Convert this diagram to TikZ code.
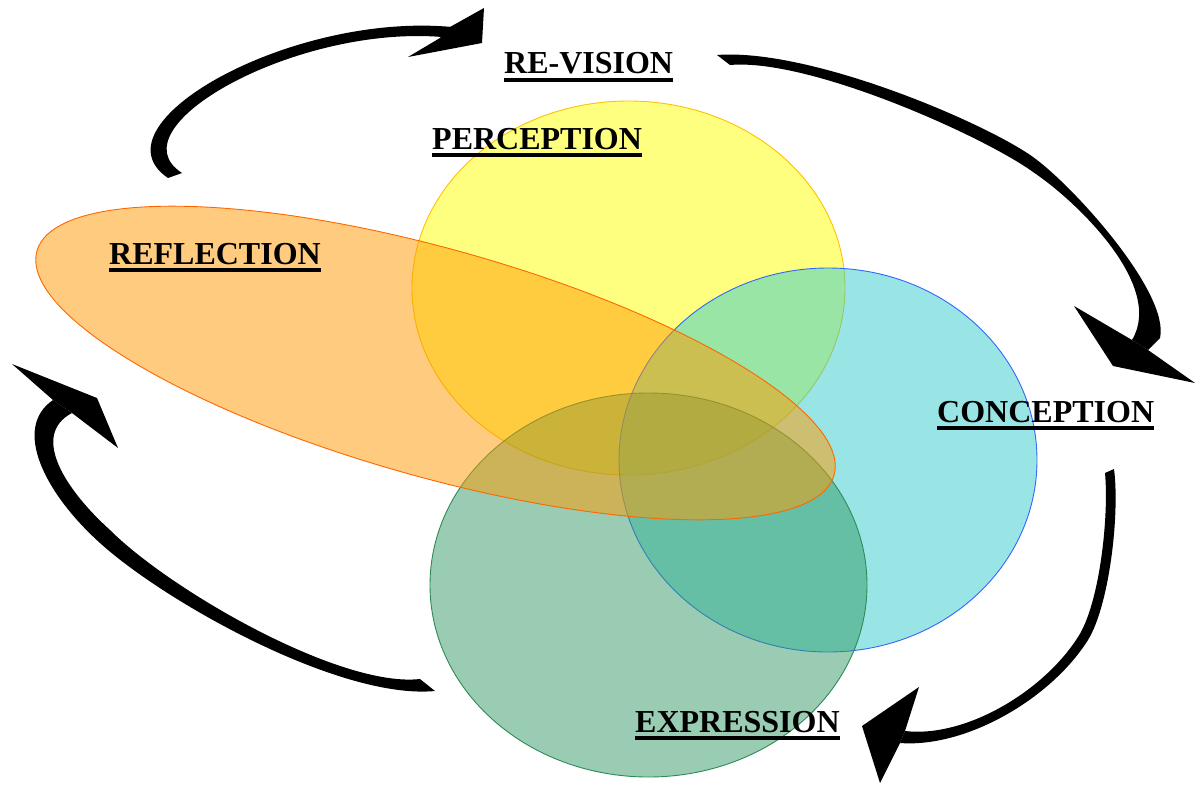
\documentclass[tikz,border=0pt]{standalone}
\usepackage{fontspec}
\setmainfont{Liberation Serif}
\newcommand\ulx[1]{\setbox0\hbox{#1}\rlap{\vrule height -4pt depth 7.8pt width \wd0}\box0}
\definecolor{yfill}{HTML}{FFFF00}
\definecolor{yedge}{HTML}{FFC000}
\definecolor{cfill}{HTML}{33CCCC}
\definecolor{cedge}{HTML}{3366FF}
\definecolor{gfill}{HTML}{339966}
\definecolor{gedge}{HTML}{2E8B57}
\definecolor{ofill}{HTML}{FF9900}
\definecolor{oedge}{HTML}{FF6600}
\tikzset{
  blob/.style={fill opacity=0.5, draw opacity=1, line width=0.9pt},
  lbl/.style={anchor=base west, inner sep=0pt, font=\fontsize{32}{38}\selectfont\bfseries},
  arr/.style={fill=black}
}
\begin{document}
\begin{tikzpicture}[x=1pt,y=-1pt]
\useasboundingbox (0,0) rectangle (1196,784);
% ellipses
\filldraw[blob, fill=yfill, draw=yedge] (628.5,288) ellipse [x radius=216.5, y radius=187];
\filldraw[blob, fill=cfill, draw=cedge] (828,460) ellipse [x radius=209, y radius=192];
\filldraw[blob, fill=gfill, draw=gedge] (648.5,585) ellipse [x radius=218.5, y radius=192];
\filldraw[blob, fill=ofill, draw=oedge, rotate around={-15.7:(435.5,363)}] (435.5,363) ellipse [x radius=414, y radius=114];
% arrow A (top-left)
\fill[arr] (168,178) .. controls (90,125) and (290,12) .. (452,27)
  -- (442,37) .. controls (295,25) and (112,128) .. (182,173) -- cycle;
\fill[arr] (450,27) -- (484,8) -- (482,43) -- (408,57) -- (440,38) -- cycle;
% arrow B (top-right)
\fill[arr] (717,55) .. controls (810,48) and (984,122) .. (1033,157)
  .. controls (1073.5,186) and (1170,293) .. (1160,338) -- (1148,350) -- (1132,340)
  .. controls (1165,285) and (1075,200) .. (1033,172)
  .. controls (985,137) and (810,58) .. (730,65) -- cycle;
\fill[arr] (1132,340) -- (1074,306) -- (1113,366) -- (1195,383) -- (1148,350) -- cycle;
% arrow C (bottom-right)
\fill[arr] (1114,469) .. controls (1120,515) and (1109,606) .. (1088,640)
  .. controls (1050,700) and (965,748) .. (900,743) -- (905,731)
  .. controls (965,738) and (1043,692) .. (1078,637)
  .. controls (1100,603) and (1109,515) .. (1105,473) -- cycle;
\fill[arr] (905,731) -- (919,687) -- (862,726) -- (880,783) -- (900,743) -- cycle;
% arrow D (bottom-left)
\fill[arr] (435,691) .. controls (340,700) and (165,602) .. (100,543)
  .. controls (44.5,493) and (12,428) .. (53,400) -- (72,413)
  .. controls (30,435) and (65.6,490) .. (110,530)
  .. controls (170,590) and (340,688) .. (420,679) -- cycle;
\fill[arr] (53,400) -- (12,364) -- (97,398) -- (118,448) -- (72,413) -- cycle;
% labels
\node[lbl] (revision) at (504,74) {\ulx{RE-VISION}};
\node[lbl] (perception) at (432,149) {\ulx{PERCEPTION}};
\node[lbl] (reflection) at (109,264) {\ulx{REFLECTION}};
\node[lbl] (conception) at (937,422) {\ulx{CONCEPTION}};
\node[lbl] (expression) at (635,732) {\ulx{EXPRESSION}};
\end{tikzpicture}
\end{document}
